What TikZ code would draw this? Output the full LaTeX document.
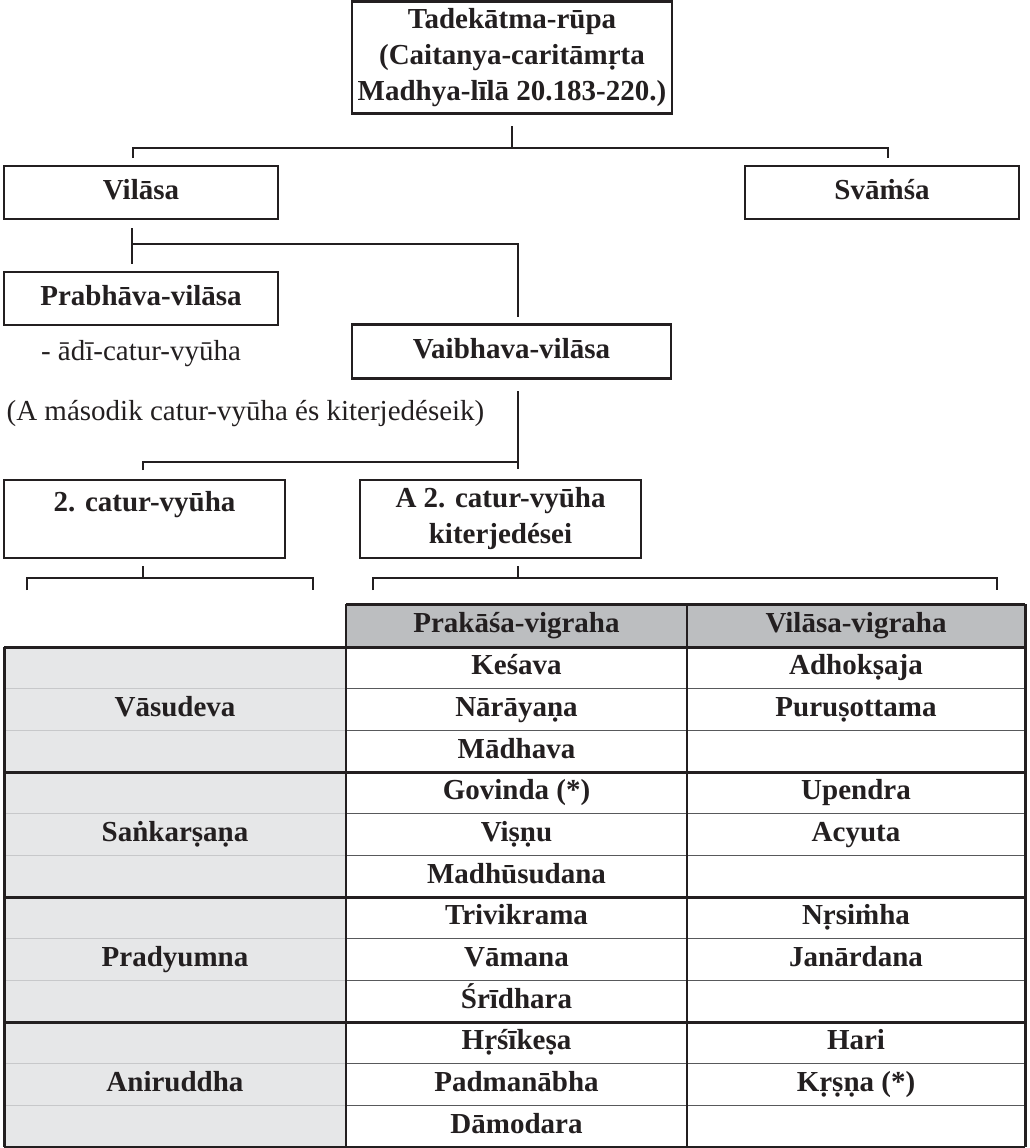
\documentclass[tikz,border=0pt]{standalone}
\usepackage{fontspec}
\setmainfont{Liberation Serif}
\definecolor{ink}{HTML}{231F20}
\definecolor{hdr}{HTML}{BCBEC0}
\definecolor{side}{HTML}{E6E7E8}
\definecolor{thin}{HTML}{58595B}
\definecolor{faint}{HTML}{C7C8CA}
\begin{document}
\begin{tikzpicture}[x=1pt,y=-1pt,
  txt/.style={font=\fontsize{29}{36}\selectfont, text=ink, inner sep=0pt},
  fixed/.style={text height=20pt, text depth=6pt},
  btxt/.style={txt, font=\fontsize{29}{36}\selectfont\bfseries},
  box/.style={btxt, draw=ink, line width=2.2pt, align=center, minimum width=#1},
  conn/.style={draw=ink, line width=2.2pt},
  tcell/.style={btxt, fixed, anchor=center},
  thick line/.style={draw=ink, line width=3pt},
  mid line/.style={draw=ink, line width=2.4pt},
  thin line/.style={draw=thin, line width=1.1pt},
  faint line/.style={draw=faint, line width=0.9pt}
]
\useasboundingbox (0,0) rectangle (1029,1148);

% ---------- tree boxes ----------
\node[box=320pt, minimum height=112pt] (top) at (512,57.5)
  {Tadekātma-rūpa\\(Caitanya-caritāmṛta\\Madhya-līlā 20.183-220.)};
\node[box=274pt, minimum height=53pt, fixed] (vilasa) at (141,192.5) {Vilāsa};
\node[box=274pt, minimum height=53pt, fixed] (svamsa) at (882,192.5) {Svāṁśa};
\node[box=274pt, minimum height=53pt, fixed] (prabhava) at (141,298.5) {Prabhāva-vilāsa};
\node[box=319pt, minimum height=54pt, fixed] (vaibhava) at (511.5,351.5) {Vaibhava-vilāsa};
\node[txt, fixed] (adi) at (141,353) {- ādī-catur-vyūha};
\node[txt, fixed] (masodik) at (245.5,413) {(A második catur-vyūha és kiterjedéseik)};
\node[box=281pt, minimum height=78pt] (catur) at (144.5,519) {2. catur-vyūha\\\mbox{}};
\node[box=281pt, minimum height=78pt] (kiterj) at (500.5,519) {A 2. catur-vyūha\\kiterjedései};

% ---------- connectors ----------
\coordinate (t0) at (512,126);
\coordinate (t1) at (512,148);
\coordinate (tl) at (133,158);
\coordinate (tr) at (888,158);
\draw[conn] (t0) -- (t1);
\draw[conn] (tl) -- (tl |- t1) -- (tr |- t1) -- (tr);

\coordinate (v0) at (132,228);
\coordinate (v1) at (132,264);
\coordinate (v2) at (132,244);
\coordinate (v3) at (518,317);
\draw[conn] (v0) -- (v1);
\draw[conn] (v2) -- (v3 |- v2) -- (v3);

\coordinate (w0) at (518,391);
\coordinate (w1) at (518,469);
\coordinate (w2) at (143,462);
\coordinate (w3) at (143,470);
\draw[conn] (w0) -- (w1);
\draw[conn] (w3) -- (w2) -- (w0 |- w2);

\coordinate (c0) at (143,566);
\coordinate (c1) at (143,578);
\coordinate (cl) at (27,590);
\coordinate (cr) at (313,590);
\draw[conn] (c0) -- (c1);
\draw[conn] (cl) -- (cl |- c1) -- (cr |- c1) -- (cr);

\coordinate (k0) at (518,566);
\coordinate (k1) at (518,578);
\coordinate (kl) at (373,590);
\coordinate (kr) at (997,590);
\draw[conn] (k0) -- (k1);
\draw[conn] (kl) -- (kl |- k1) -- (kr |- k1) -- (kr);

% ---------- table ----------
\def\rh{41.6667}
\fill[hdr] (346,604) rectangle (1025,647);
\fill[side] (4,647) rectangle (346,1147);
% faint sub-row lines in first column
\foreach \k in {1,2,4,5,7,8,10,11}
  \draw[faint line] (4,{647+\rh*\k}) -- (346,{647+\rh*\k});
% thin sub-row lines
\foreach \k in {1,2,4,5,7,8,10,11}
  \draw[thin line] (346,{647+\rh*\k}) -- (1025,{647+\rh*\k});
% group lines
\draw[thick line] (346,604) -- (1025,604);
\foreach \k in {0,3,6,9}
  \draw[thick line] (4,{647+\rh*\k}) -- (1025,{647+\rh*\k});
\draw[thick line] (4,1147) -- (1025,1147);
% verticals
\draw[thick line] (4,647) -- (4,1147);
\draw[mid line] (346,604) -- (346,1147);
\draw[mid line] (687,604) -- (687,1147);
\draw[thick line] (1025,604) -- (1025,1147);

% header text
\node[tcell] (hp) at (516.5,625.5) {Prakāśa-vigraha};
\node[tcell] (hv) at (856,625.5) {Vilāsa-vigraha};

% group names
\foreach \g/\t in {0/Vāsudeva,1/Saṅkarṣaṇa,2/Pradyumna,3/Aniruddha}
  \node[tcell] (g\g) at (175,{647+\rh*(3*\g+1.5)}) {\t};

% prakasa column
\foreach \r/\t in {0/Keśava,1/Nārāyaṇa,2/Mādhava,3/Govinda (*),4/Viṣṇu,5/Madhūsudana,6/Trivikrama,7/Vāmana,8/Śrīdhara,9/Hṛśīkeṣa,10/Padmanābha,11/Dāmodara}
  \node[tcell] (p\r) at (516.5,{647+\rh*(\r+0.5)}) {\t};

% vilasa column
\foreach \r/\t in {0/Adhokṣaja,1/Puruṣottama,3/Upendra,4/Acyuta,6/Nṛsiṁha,7/Janārdana,9/Hari,10/Kṛṣṇa (*)}
  \node[tcell] (v\r) at (856,{647+\rh*(\r+0.5)}) {\t};

\end{tikzpicture}
\end{document}
